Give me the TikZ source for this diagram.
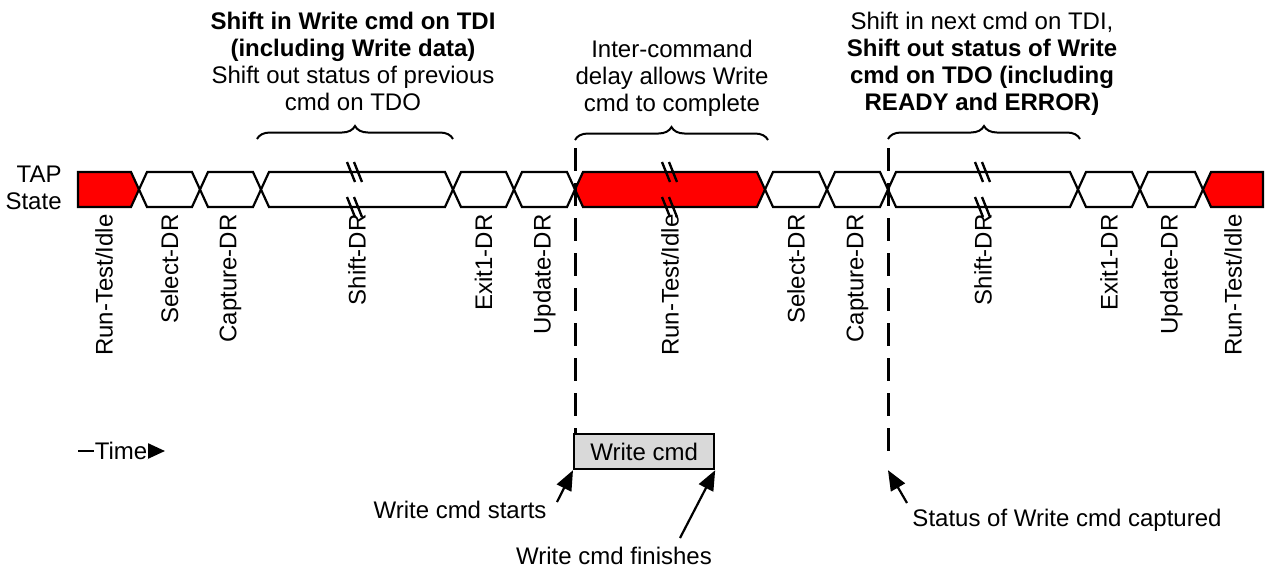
\documentclass[tikz,border=0pt]{standalone}
\usepackage{fontspec}
\setmainfont{Liberation Sans}
\usetikzlibrary{arrows.meta,decorations.pathreplacing}
\definecolor{tapred}{RGB}{255,0,0}
\definecolor{boxgray}{RGB}{217,217,217}
\begin{document}
\begin{tikzpicture}[x=0.5pt,y=-0.5pt,
  txt/.style={font=\fontsize{12}{13.5}\selectfont, inner sep=0pt},
  lbl/.style={txt, rotate=90, anchor=east},
  seg/.style={draw, line width=1.1pt, line join=miter},
  brk/.style={line width=1.2pt},
  brc/.style={decorate, decoration={brace, amplitude=6.5pt}, line width=1pt},
  vdash/.style={line width=1.5pt, dash pattern=on 11.5pt off 6pt},
  callout/.style={line width=1.1pt, -{Triangle[length=10pt,width=8pt]}},
]
\useasboundingbox (0,0) rectangle (1265,569);

% ---- TAP state bus ----
\draw[seg, fill=tapred] (78,172) -- (131,172) -- (139,189.5) -- (131,207) -- (78,207) -- cycle;
\foreach \a/\b in {139/200,200/261,261/453,453/514,514/575,765/827,827/888,888/1078,1078/1140,1140/1203}
  \draw[seg, fill=white] (\a,189.5) -- (\a+8,172) -- (\b-8,172) -- (\b,189.5) -- (\b-8,207) -- (\a+8,207) -- cycle;
\draw[seg, fill=tapred] (575,189.5) -- (583,172) -- (757,172) -- (765,189.5) -- (757,207) -- (583,207) -- cycle;
\draw[seg, fill=tapred] (1203,189.5) -- (1211,172) -- (1263,172) -- (1263,207) -- (1211,207) -- cycle;

% break marks
\foreach \x in {355,670,983}
  \foreach \y in {172,207} {
    \draw[brk] (\x-8,\y-10) -- (\x,\y+10);
    \draw[brk] (\x-1,\y-10) -- (\x+7,\y+10);
  }

% state label
\node[txt, align=right, anchor=north east] (tap) at (62,166) {TAP\\State};

% state names
\node[lbl] (l1) at (104,214) {Run-Test/Idle};
\node[lbl] (l2) at (169.5,214) {Select-DR};
\node[lbl] (l3) at (230.5,214) {Capture-DR};
\node[lbl] (l4) at (357,214) {Shift-DR};
\node[lbl] (l5) at (483.5,214) {Exit1-DR};
\node[lbl] (l6) at (544.5,214) {Update-DR};
\node[lbl] (l7) at (670,214) {Run-Test/Idle};
\node[lbl] (l8) at (796,214) {Select-DR};
\node[lbl] (l9) at (857.5,214) {Capture-DR};
\node[lbl] (l10) at (983,214) {Shift-DR};
\node[lbl] (l11) at (1109,214) {Exit1-DR};
\node[lbl] (l12) at (1171.5,214) {Update-DR};
\node[lbl] (l13) at (1233,214) {Run-Test/Idle};

% ---- top annotations ----
\node[txt, align=center, anchor=north] (n1) at (353,12)
  {\textbf{Shift in Write cmd on TDI}\\\textbf{(including Write data)}\\Shift out status of previous\\cmd on TDO};
\node[txt, align=center, anchor=north] (n2) at (672,40)
  {Inter-command\\delay allows Write\\cmd to complete};
\node[txt, align=center, anchor=north] (n3) at (982,12)
  {Shift in next cmd on TDI,\\\textbf{Shift out status of Write}\\\textbf{cmd on TDO (including}\\\textbf{READY and ERROR)}};

\coordinate (b1a) at (257,139);
\coordinate (b1b) at (453,139);
\coordinate (b2a) at (575,140);
\coordinate (b2b) at (768,140);
\coordinate (b3a) at (888,139);
\coordinate (b3b) at (1080,139);
\draw[brc] (b1a) -- (b1b);
\draw[brc] (b2a) -- (b2b);
\draw[brc] (b3a) -- (b3b);

% ---- Write cmd box and markers ----
\node[draw, line width=1.1pt, fill=boxgray, txt, minimum width=70pt, minimum height=17.5pt, anchor=north west] (wbox) at (573,433) {Write cmd};

\coordinate (d1) at (575,148);
\coordinate (d2a) at (888,148);
\coordinate (d2b) at (888,455);
\draw[vdash] (d1) -- (d1 |- wbox.north);
\draw[vdash] (d2a) -- (d2b);

% time arrow
\coordinate (t0) at (78,451);
\coordinate (t1) at (165,451);
\draw[line width=1.1pt, -{Triangle[length=9pt,width=8pt]}] (t0) -- (t1);
\node[txt, fill=white, inner xsep=0.5pt, anchor=base] (time) at (121,459) {Time};

% callouts
\node[txt, anchor=base] (starts) at (460,518) {Write cmd starts};
\node[txt, anchor=base] (finishes) at (614,564) {Write cmd finishes};
\node[txt, anchor=base] (status) at (1067,526) {Status of Write cmd captured};
\coordinate (c1) at (557,502);
\coordinate (c2) at (680,538);
\coordinate (c3) at (907,503);
\draw[callout] (c1) -- (wbox.south west);
\draw[callout] (c2) -- (wbox.south east);
\draw[callout] (c3) -- (d2b |- wbox.south);
\end{tikzpicture}
\end{document}
